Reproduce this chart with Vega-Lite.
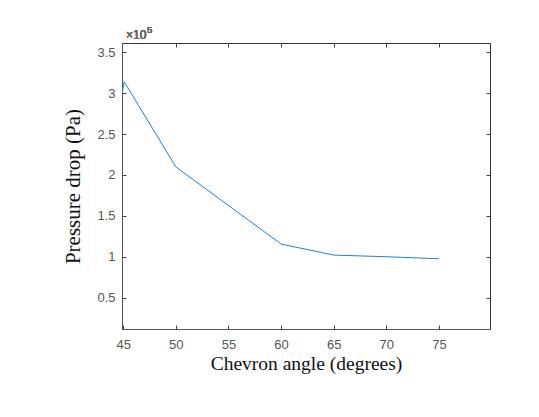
{
  "$schema": "https://vega.github.io/schema/vega-lite/v6.json",
  "width": 368,
  "height": 286,
  "autosize": "none",
  "padding": {"left": 122, "top": 43, "right": 49, "bottom": 88},
  "background": "white",
  "config": {
    "view": {"stroke": "#333333", "strokeWidth": 1},
    "axis": {
      "domainColor": "#555555",
      "tickColor": "#444444",
      "tickSize": 4,
      "grid": false,
      "labelFont": "Liberation Sans",
      "labelFontSize": 13,
      "labelColor": "#555555",
      "titleFont": "Liberation Serif",
      "titleFontWeight": "normal",
      "titleColor": "#111111"
    }
  },
  "data": {
    "values": [
      {"angle": 44.9, "dp": 300000},
      {"angle": 45.1, "dp": 314000},
      {"angle": 50, "dp": 210000},
      {"angle": 60, "dp": 115500},
      {"angle": 65, "dp": 102000},
      {"angle": 70, "dp": 100000},
      {"angle": 75, "dp": 97500}
    ]
  },
  "layer": [
    {
      "mark": {"type": "line", "color": "#1f82cc", "strokeWidth": 1, "clip": true},
      "encoding": {
        "x": {
          "field": "angle", "type": "quantitative",
          "scale": {"domain": [44.89, 79.85], "nice": false, "zero": false},
          "axis": {"orient": "bottom", "values": [45, 50, 55, 60, 65, 70, 75], "ticks": false, "title": "Chevron angle (degrees)", "titleFontSize": 19.5, "labelPadding": 9, "titlePadding": 3}
        },
        "y": {
          "field": "dp", "type": "quantitative",
          "scale": {"domain": [11600, 361400], "nice": false, "zero": false},
          "axis": {"orient": "left", "values": [50000, 100000, 150000, 200000, 250000, 300000, 350000], "ticks": false, "labelExpr": "format(datum.value/100000, '~g')", "title": "Pressure drop (Pa)", "titleFontSize": 21, "labelPadding": 7, "titlePadding": 13}
        }
      }
    },
    {
      "mark": {"type": "line", "opacity": 0},
      "encoding": {
        "x": {
          "field": "angle", "type": "quantitative",
          "axis": {"orient": "top", "offset": -286, "values": [45, 50, 55, 60, 65, 70, 75], "labels": false, "title": null, "domain": false}
        },
        "y": {
          "field": "dp", "type": "quantitative",
          "axis": {"orient": "right", "offset": -368, "values": [50000, 100000, 150000, 200000, 250000, 300000, 350000], "labels": false, "title": null, "domain": false}
        }
      }
    },
    {
      "mark": {"type": "line", "opacity": 0},
      "encoding": {
        "x": {
          "field": "angle", "type": "quantitative",
          "axis": {"orient": "bottom", "offset": -286, "values": [50, 55, 60, 65, 70, 75], "labels": false, "title": null, "domain": false}
        },
        "y": {
          "field": "dp", "type": "quantitative",
          "axis": {"orient": "left", "offset": -368, "values": [50000, 100000, 150000, 200000, 250000, 300000, 350000], "labels": false, "title": null, "domain": false}
        }
      }
    },
    {
      "mark": {"type": "text", "text": "×10", "align": "left", "baseline": "alphabetic", "font": "Liberation Sans", "fontSize": 12, "fontWeight": "normal", "color": "#666666", "dx": 4, "dy": -4.3, "clip": false},
      "encoding": {
        "x": {"datum": 44.89, "type": "quantitative", "axis": null},
        "y": {"datum": 361400, "type": "quantitative", "axis": null}
      }
    },
    {
      "mark": {"type": "text", "text": "5", "align": "left", "baseline": "alphabetic", "font": "Liberation Sans", "fontSize": 9.5, "fontWeight": "normal", "color": "#666666", "dx": 25, "dy": -10.3, "clip": false},
      "encoding": {
        "x": {"datum": 44.89, "type": "quantitative", "axis": null},
        "y": {"datum": 361400, "type": "quantitative", "axis": null}
      }
    }
  ],
  "resolve": {"axis": {"x": "independent", "y": "independent"}}
}
